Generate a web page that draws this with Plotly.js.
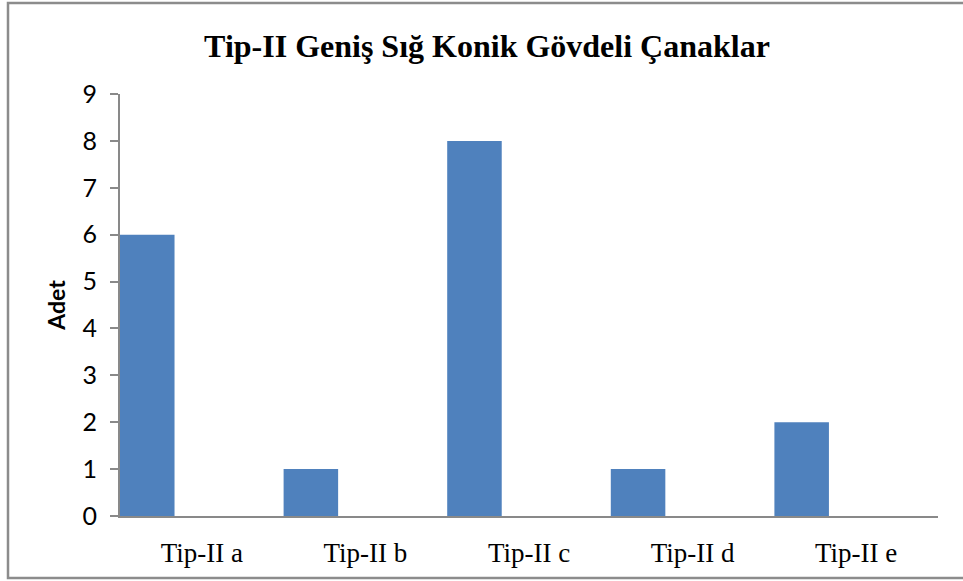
<!DOCTYPE html>
<html>
<head>
<meta charset="utf-8">
<script src="https://cdn.plot.ly/plotly-3.0.1.min.js"></script>
<style>
html,body{margin:0;padding:0;background:#fff;}
#chart{width:963px;height:581px;}
</style>
</head>
<body>
<div id="chart"></div>
<script>
const categories = ["Tip-II a", "Tip-II b", "Tip-II c", "Tip-II d", "Tip-II e"];
const counts = [6, 1, 8, 1, 2];
const yTicks = [0, 1, 2, 3, 4, 5, 6, 7, 8, 9];
const chartTitle = "Tip-II Geniş Sığ Konik Gövdeli Çanaklar";
const yTitle = "Adet";

const W = 963, H = 581;
const M = {l: 120, r: 25, t: 94, b: 65};
const pw = W - M.l - M.r, ph = H - M.t - M.b;
const px = v => (v - M.l) / pw;
const py = v => 1 - (v - M.t) / ph;

const trace = {
  type: "bar",
  x: categories,
  y: counts,
  width: 1/3,
  offset: -0.5,
  marker: {color: "#4F81BD", line: {width: 0}},
  hoverinfo: "x+y"
};

const layout = {
  width: W, height: H,
  margin: M,
  paper_bgcolor: "#ffffff",
  plot_bgcolor: "#ffffff",
  showlegend: false,
  title: {
    text: "<b>" + chartTitle + "</b>",
    font: {family: "Liberation Serif, Times New Roman, serif", size: 32, color: "#000"},
    x: 487 / W, xanchor: "center", xref: "container",
    y: 1 - 46 / H, yanchor: "middle", yref: "container"
  },
  xaxis: {
    type: "category",
    range: [-0.5, 4.5],
    showline: true, linecolor: "#898989", linewidth: 2,
    ticks: "", showgrid: false, zeroline: false,
    tickfont: {family: "Liberation Serif, Times New Roman, serif", size: 27, color: "#000"},
    ticklabelstandoff: 12
  },
  yaxis: {
    range: [0, 9],
    tickvals: yTicks,
    ticktext: yTicks.map(String),
    showline: true, linecolor: "#898989", linewidth: 2,
    ticks: "outside", ticklen: 8, tickcolor: "#898989", tickwidth: 2,
    showgrid: false, zeroline: false,
    tickfont: {family: "Lato, Open Sans, sans-serif", size: 25, color: "#000"},
    ticklabelstandoff: 8,
    title: {
      text: "<b>" + yTitle + "</b>",
      font: {family: "Lato, Open Sans, sans-serif", size: 23, color: "#000"},
      standoff: 10
    }
  },
  shapes: [{
    type: "rect", xref: "paper", yref: "paper",
    x0: px(8), x1: px(968), y0: py(578), y1: py(3),
    line: {color: "#8c8c8c", width: 2.5},
    fillcolor: "rgba(0,0,0,0)",
    layer: "below"
  }]
};

Plotly.newPlot("chart", [trace], layout, {displayModeBar: false, staticPlot: true});
</script>
</body>
</html>
